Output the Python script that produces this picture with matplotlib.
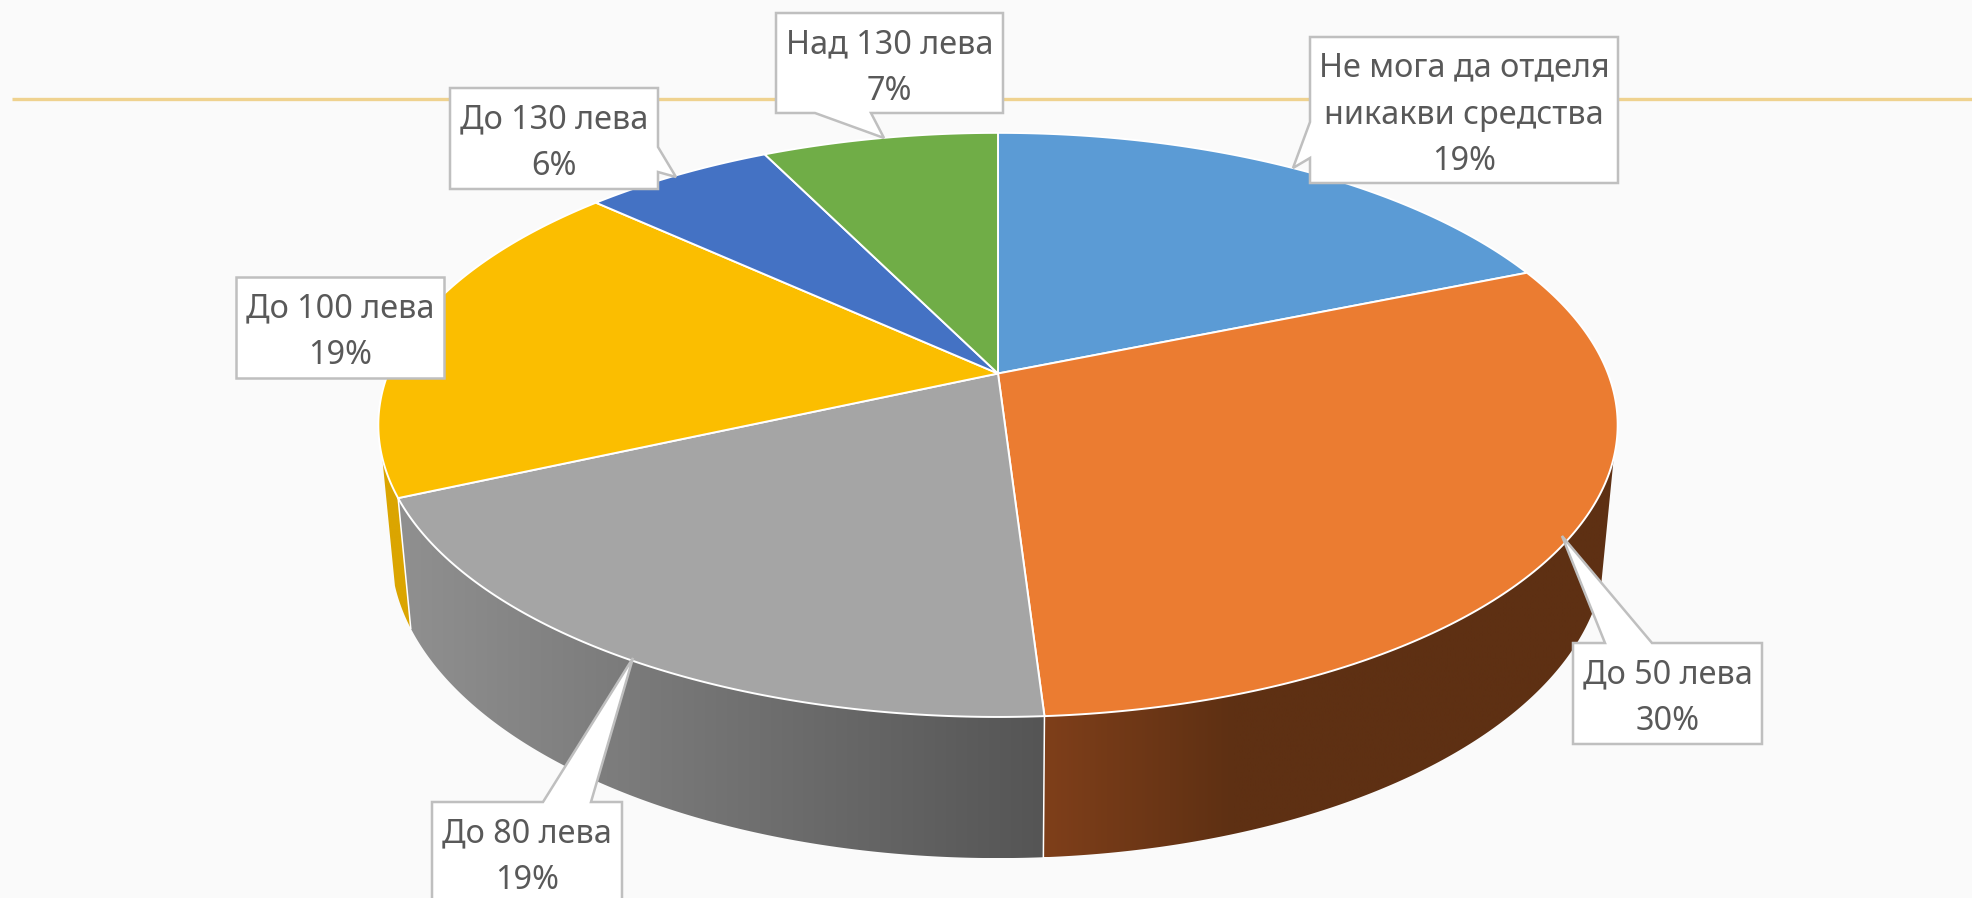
import numpy as np
import matplotlib
matplotlib.use("Agg")
import matplotlib.pyplot as plt
from matplotlib.colors import to_rgb
from matplotlib.patches import Polygon

# data
categories = ["Не мога да отделя\nникакви средства", "До 50 лева", "До 80 лева",
              "До 100 лева", "До 130 лева", "Над 130 лева"]
shares = [18.8, 30.2, 19.3, 18.5, 5.9, 7.3]
share_labels = ["19%", "30%", "19%", "19%", "6%", "7%"]

top_colors = ["#5B9BD5", "#EB7C31", "#A5A5A5", "#FBBE00", "#4472C4", "#70AD47"]
wall_colors = [["#3F6C95"], ["#7F3F1A", "#5E3013", "#5E3013", "#5E3013"], ["#909090", "#555555"],
               ["#DBA500"], ["#2F5088"], ["#4E7931"]]

# callout boxes: x0, y0, x1, y1, pointer base a, pointer base b, tip (pixels)
boxes = [
    (1310, 37, 1618, 183, (1310, 122), (1310, 158), (1293, 168)),
    (1573, 643, 1762, 744, (1605, 643), (1652, 643), (1562, 536)),
    (432, 802, 622, 910, (543, 802), (591, 802), (633, 658)),
    (236, 277, 444, 378, None, None, None),
    (450, 88, 658, 189, (658, 147), (658, 172), (676, 177)),
    (776, 13, 1003, 113, (815, 113), (871, 113), (884, 138)),
]

W, H = 1972, 898
BG = "#FAFAFA"

# perspective of the pie disc
CX, CY = 998, 373.5
RX, RY, TILT = 610, 283, 0.176
DEPTH_W, DEPTH_Y = 0.02, 126
FOLD = 0.2956  # where the wall turns out of sight, as a fraction of the circle


def project(frac, lower=False):
    ang = 2 * np.pi * np.asarray(frac)
    u, v = np.sin(ang), np.cos(ang)
    w = 1 + TILT * v
    if lower:
        return np.column_stack([CX + RX * u / (w + DEPTH_W),
                                CY + (DEPTH_Y - RY * v) / (w + DEPTH_W)])
    return np.column_stack([CX + RX * u / w, CY - RY * v / w])


def callout(x0, y0, x1, y1, a, b, tip):
    corners = [(x0, y0), (x1, y0), (x1, y1), (x0, y1)]
    if tip is None:
        return corners
    if a[1] == y0 and b[1] == y0:
        return [(x0, y0), a, tip, b, (x1, y0), (x1, y1), (x0, y1)]
    if a[1] == y1 and b[1] == y1:
        return [(x0, y0), (x1, y0), (x1, y1), b, tip, a, (x0, y1)]
    if a[0] == x1:
        return [(x0, y0), (x1, y0), a, tip, b, (x1, y1), (x0, y1)]
    return [(x0, y0), (x1, y0), (x1, y1), (x0, y1), b, tip, a]


fig = plt.figure(figsize=(W / 100, H / 100), dpi=100, facecolor=BG)
ax = fig.add_axes([0, 0, 1, 1])
ax.set_facecolor(BG)

# rule behind the chart
ax.plot([12, W], [99, 99], color="#EFD28F", lw=2.4, solid_capstyle="butt", zorder=1)

edges = np.concatenate([[0], np.cumsum(shares)]) / np.sum(shares)

# outer walls, only the part facing the viewer
for i in range(len(shares)):
    f0, f1 = max(edges[i], FOLD), min(edges[i + 1], 1 - FOLD)
    if f1 <= f0:
        continue
    t = np.linspace(f0, f1, 160)
    poly = np.vstack([project(t), project(t[::-1], lower=True)])
    patch = Polygon(poly, closed=True, facecolor="none", edgecolor="none", zorder=2)
    ax.add_patch(patch)
    x0, x1 = poly[:, 0].min(), poly[:, 0].max()
    stops = [to_rgb(c) for c in wall_colors[i]]
    if len(stops) == 1:
        stops = stops * 2
    grad = np.linspace(0, 1, 300)
    pos = np.linspace(0, 1, len(stops))
    img = np.stack([np.interp(grad, pos, [s[k] for s in stops]) for k in range(3)], axis=-1)[None, :, :]
    im = ax.imshow(img, extent=[x0, x1, poly[:, 1].max(), poly[:, 1].min()], aspect="auto",
                   zorder=2, interpolation="bilinear")
    im.set_clip_path(patch)

# white seams between the walls
for e in edges[1:-1]:
    if FOLD < e < 1 - FOLD:
        seam = np.vstack([project([e]), project([e], lower=True)])
        ax.plot(seam[:, 0], seam[:, 1], color="white", lw=1.1, zorder=2.5)

# top face
for i in range(len(shares)):
    t = np.linspace(edges[i], edges[i + 1], 160)
    poly = np.vstack([[[CX, CY]], project(t)])
    ax.add_patch(Polygon(poly, closed=True, facecolor=top_colors[i], edgecolor="white",
                         lw=1.4, joinstyle="round", zorder=3))

# data labels
for cat, pct, b in zip(categories, share_labels, boxes):
    x0, y0, x1, y1, pa, pb, tip = b
    ax.add_patch(Polygon(callout(x0, y0, x1, y1, pa, pb, tip), closed=True, facecolor="white",
                         edgecolor="#BFBFBF", lw=1.8, joinstyle="miter", zorder=4))
    yc = y0 + (78 if "\n" in cat else 55)
    ax.text((x0 + x1) / 2, yc, cat + "\n" + pct, ha="center", va="center", multialignment="center",
            fontsize=23.3, family=["Noto Sans", "DejaVu Sans"], color="#595959",
            linespacing=1.55, zorder=5)

ax.set_xlim(0, W)
ax.set_ylim(H, 0)
ax.axis("off")

fig.savefig("out.png", dpi=100, facecolor=BG)
